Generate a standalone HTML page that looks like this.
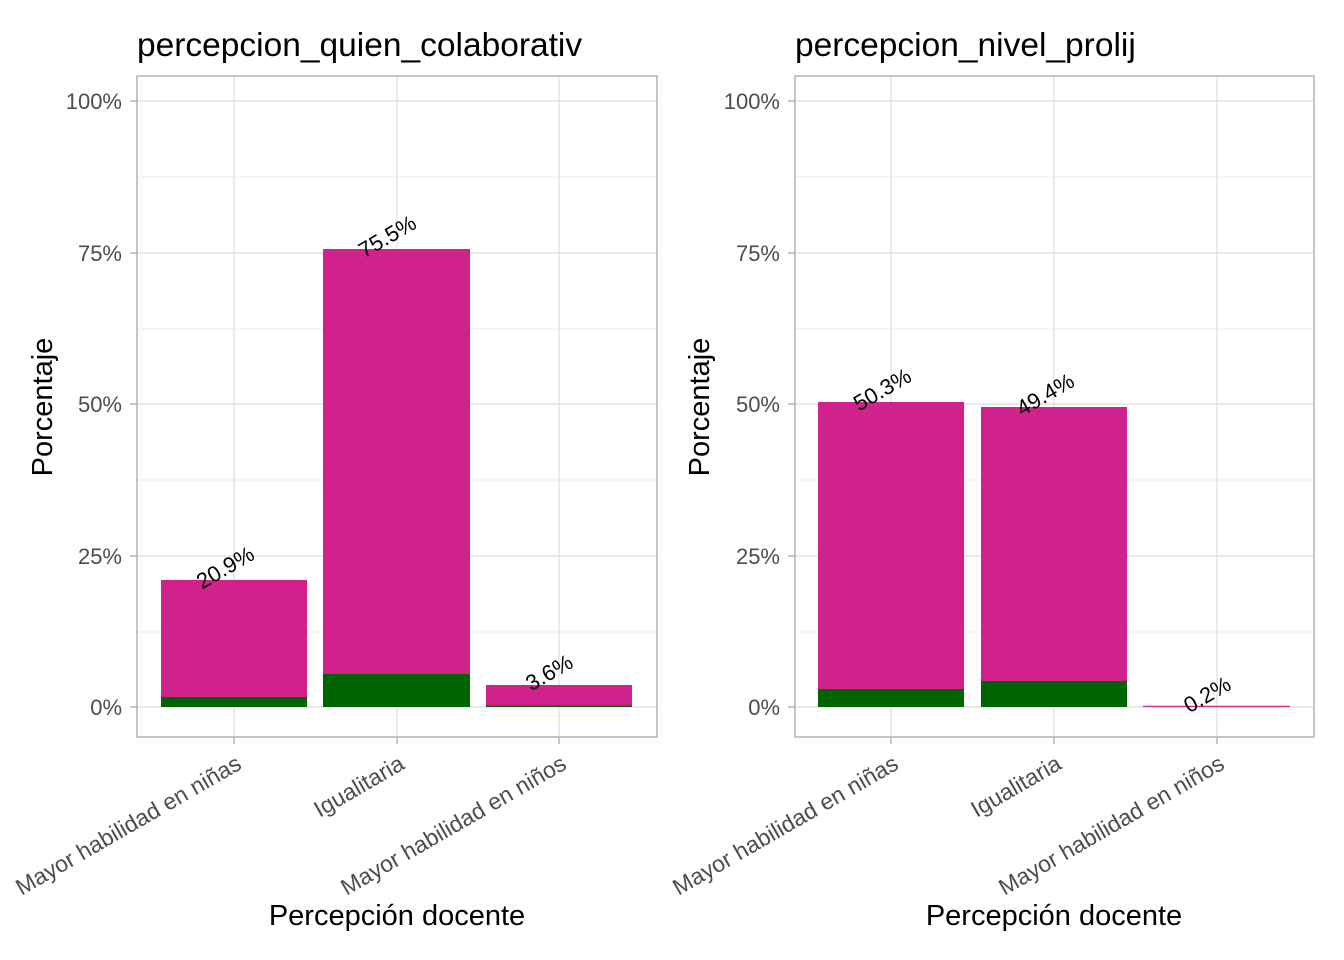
<!DOCTYPE html>
<html><head><meta charset="utf-8"><style>body{margin:0;background:#fff}svg{display:block}</style></head>
<body>
<svg width="1344" height="960" xmlns="http://www.w3.org/2000/svg" font-family="Liberation Sans, Arial, sans-serif">
<rect width="1344" height="960" fill="#fff"/>
<!-- LEFT PANEL -->
<g>
  <g stroke="#EBEBEB" stroke-width="1">
    <line x1="137" x2="657" y1="177" y2="177"/><line x1="137" x2="657" y1="329" y2="329"/>
    <line x1="137" x2="657" y1="480" y2="480"/><line x1="137" x2="657" y1="632" y2="632"/>
  </g>
  <g stroke="#DEDEDE" stroke-width="1.2">
    <line x1="137" x2="657" y1="101" y2="101"/><line x1="137" x2="657" y1="253" y2="253"/>
    <line x1="137" x2="657" y1="404" y2="404"/><line x1="137" x2="657" y1="556" y2="556"/>
    <line x1="137" x2="657" y1="707" y2="707"/>
    <line x1="234" x2="234" y1="76" y2="737"/><line x1="397" x2="397" y1="76" y2="737"/><line x1="559" x2="559" y1="76" y2="737"/>
  </g>
  <rect x="161" y="580" width="146" height="127" fill="#D0218C"/>
  <rect x="161" y="697" width="146" height="10" fill="#006400"/>
  <rect x="323" y="249" width="147" height="458" fill="#D0218C"/>
  <rect x="323" y="674" width="147" height="33" fill="#006400"/>
  <rect x="486" y="685" width="146" height="22" fill="#D0218C"/>
  <rect x="486" y="705.5" width="146" height="1.5" fill="#006400"/>
  <rect x="137" y="76" width="520" height="661" fill="none" stroke="#B3B3B3" stroke-width="1.5"/>
  <g stroke="#B3B3B3" stroke-width="1.5">
    <line x1="130" x2="137" y1="101" y2="101"/><line x1="130" x2="137" y1="253" y2="253"/>
    <line x1="130" x2="137" y1="404" y2="404"/><line x1="130" x2="137" y1="556" y2="556"/>
    <line x1="130" x2="137" y1="707" y2="707"/>
    <line x1="234" x2="234" y1="737" y2="744"/><line x1="397" x2="397" y1="737" y2="744"/><line x1="559" x2="559" y1="737" y2="744"/>
  </g>
  <g font-size="22" fill="#4D4D4D" text-anchor="end">
    <text x="122" y="109">100%</text><text x="122" y="261">75%</text><text x="122" y="412">50%</text>
    <text x="122" y="564">25%</text><text x="122" y="715">0%</text>
  </g>
  <g font-size="22" fill="#000" text-anchor="middle">
    <text transform="translate(229,574) rotate(-30)">20.9%</text>
    <text transform="translate(391,243) rotate(-30)">75.5%</text>
    <text transform="translate(553,679) rotate(-30)">3.6%</text>
  </g>
  <g font-size="23" fill="#4D4D4D" text-anchor="end">
    <text transform="translate(243,768) rotate(-30)">Mayor habilidad en niñas</text>
    <text transform="translate(406,768) rotate(-30)">Igualitaria</text>
    <text transform="translate(568,768) rotate(-30)">Mayor habilidad en niños</text>
  </g>
  <text x="397" y="925" font-size="29" text-anchor="middle">Percepción docente</text>
  <text transform="translate(52,407) rotate(-90)" font-size="29" text-anchor="middle">Porcentaje</text>
  <text x="137" y="56" font-size="33.5">percepcion_quien_colaborativ</text>
</g>
<!-- RIGHT PANEL -->
<g>
  <g stroke="#EBEBEB" stroke-width="1">
    <line x1="795" x2="1314" y1="177" y2="177"/><line x1="795" x2="1314" y1="329" y2="329"/>
    <line x1="795" x2="1314" y1="480" y2="480"/><line x1="795" x2="1314" y1="632" y2="632"/>
  </g>
  <g stroke="#DEDEDE" stroke-width="1.2">
    <line x1="795" x2="1314" y1="101" y2="101"/><line x1="795" x2="1314" y1="253" y2="253"/>
    <line x1="795" x2="1314" y1="404" y2="404"/><line x1="795" x2="1314" y1="556" y2="556"/>
    <line x1="795" x2="1314" y1="707" y2="707"/>
    <line x1="891" x2="891" y1="76" y2="737"/><line x1="1054" x2="1054" y1="76" y2="737"/><line x1="1217" x2="1217" y1="76" y2="737"/>
  </g>
  <rect x="818" y="402" width="146" height="305" fill="#D0218C"/>
  <rect x="818" y="689" width="146" height="18" fill="#006400"/>
  <rect x="981" y="407" width="146" height="300" fill="#D0218C"/>
  <rect x="981" y="681" width="146" height="26" fill="#006400"/>
  <rect x="1143" y="705.8" width="147" height="1.2" fill="#D0218C"/>
  <rect x="795" y="76" width="519" height="661" fill="none" stroke="#B3B3B3" stroke-width="1.5"/>
  <g stroke="#B3B3B3" stroke-width="1.5">
    <line x1="788" x2="795" y1="101" y2="101"/><line x1="788" x2="795" y1="253" y2="253"/>
    <line x1="788" x2="795" y1="404" y2="404"/><line x1="788" x2="795" y1="556" y2="556"/>
    <line x1="788" x2="795" y1="707" y2="707"/>
    <line x1="891" x2="891" y1="737" y2="744"/><line x1="1054" x2="1054" y1="737" y2="744"/><line x1="1217" x2="1217" y1="737" y2="744"/>
  </g>
  <g font-size="22" fill="#4D4D4D" text-anchor="end">
    <text x="780" y="109">100%</text><text x="780" y="261">75%</text><text x="780" y="412">50%</text>
    <text x="780" y="564">25%</text><text x="780" y="715">0%</text>
  </g>
  <g font-size="22" fill="#000" text-anchor="middle">
    <text transform="translate(886,396) rotate(-30)">50.3%</text>
    <text transform="translate(1049,401) rotate(-30)">49.4%</text>
    <text transform="translate(1211,701) rotate(-30)">0.2%</text>
  </g>
  <g font-size="23" fill="#4D4D4D" text-anchor="end">
    <text transform="translate(900,768) rotate(-30)">Mayor habilidad en niñas</text>
    <text transform="translate(1063,768) rotate(-30)">Igualitaria</text>
    <text transform="translate(1226,768) rotate(-30)">Mayor habilidad en niños</text>
  </g>
  <text x="1054" y="925" font-size="29" text-anchor="middle">Percepción docente</text>
  <text transform="translate(709,407) rotate(-90)" font-size="29" text-anchor="middle">Porcentaje</text>
  <text x="795" y="56" font-size="33.5">percepcion_nivel_prolij</text>
</g>
</svg>
</body></html>
